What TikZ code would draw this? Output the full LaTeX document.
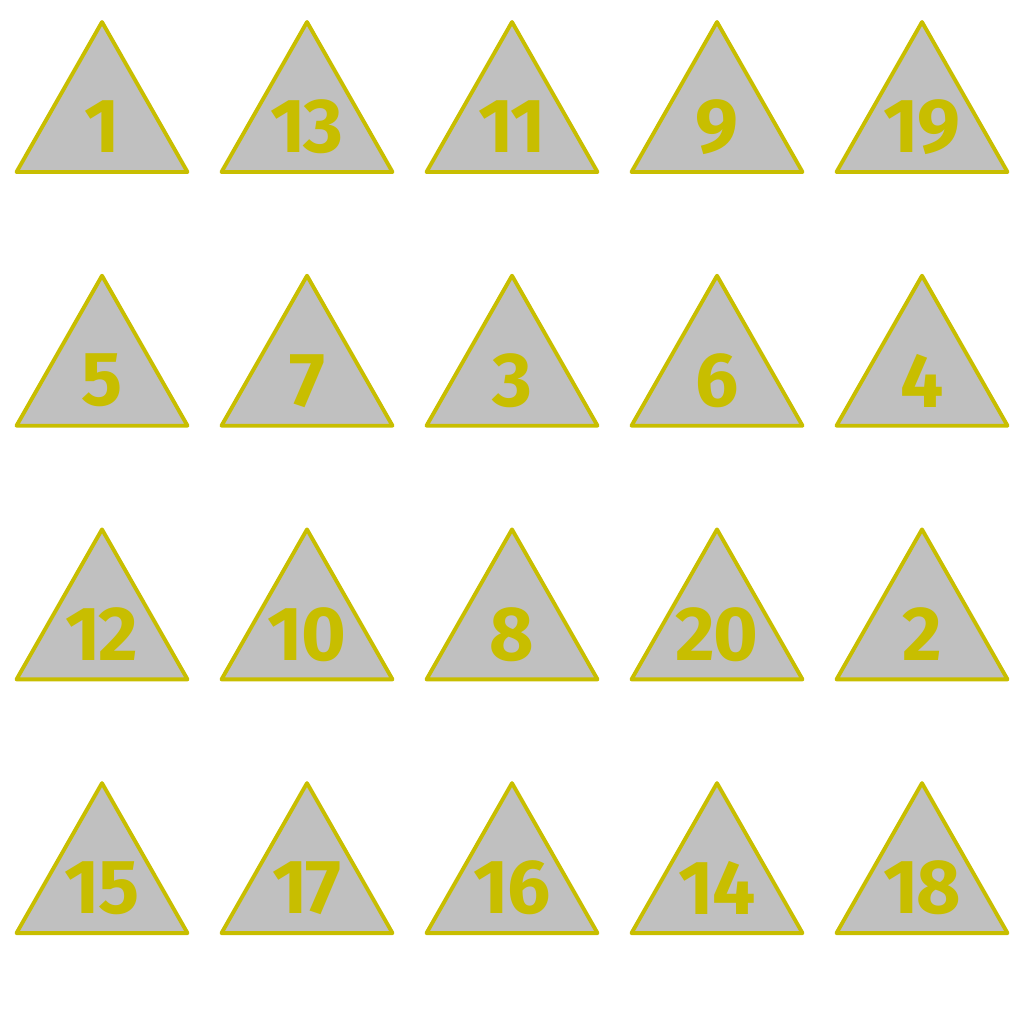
\documentclass[tikz,border=0pt]{standalone}
\usepackage{fontspec}
\setmainfont{Fira Sans}[Numbers=Proportional, LetterSpace=-3]
\definecolor{tribg}{RGB}{192,192,192}
\definecolor{triline}{RGB}{200,190,0}
\tikzset{
  tri/.style={draw=triline, fill=tribg, line width=1.1pt, line join=round},
  num/.style={text=triline, font=\fontsize{21.8}{22}\selectfont\bfseries, inner sep=0pt}
}
\begin{document}
\begin{tikzpicture}[x=0.01cm, y=-0.01cm]
  \useasboundingbox (0,0) rectangle (1024,1024);
  % 5 columns, 4 rows of numbered triangles
  \foreach \n [count=\i from 0] in {1,13,11,9,19,5,7,3,6,4,12,10,8,20,2,15,17,16,14,18} {
    \pgfmathtruncatemacro{\c}{mod(\i,5)}
    \pgfmathtruncatemacro{\r}{div(\i,5)}
    \coordinate (top\n) at ({102+205*\c},{22+253.7*\r});
    \draw[tri] (top\n) -- ++(85.5,150) -- ++(-171,0) -- cycle;
    \node[num] (lab\n) at ({102+205*\c},{127+253.7*\r}) {\n};
  }
\end{tikzpicture}
\end{document}
